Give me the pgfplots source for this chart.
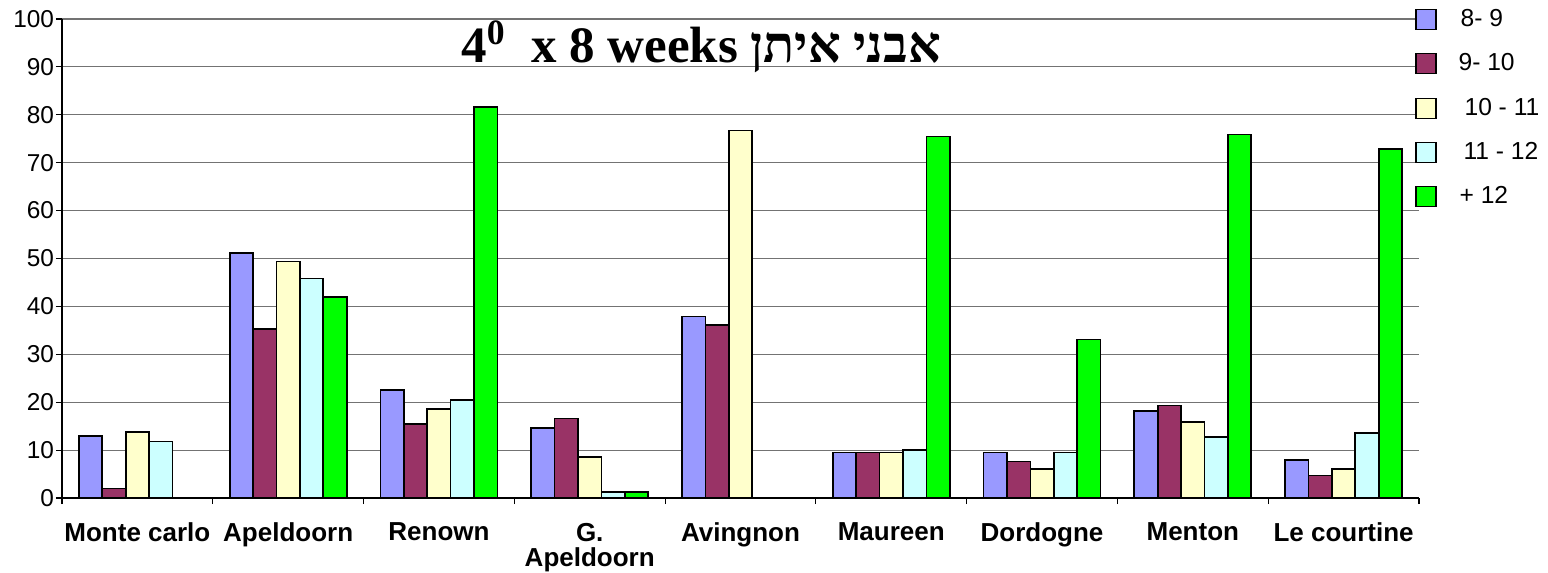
\documentclass[border=0pt]{standalone}
\usepackage{fontspec}
\setmainfont{Liberation Sans}
\newfontfamily\titleserif{Liberation Serif}
\newfontfamily\hebfont[Script=Hebrew]{Liberation Serif}
\TeXXeTstate=1
\usepackage{pgfplots}
\pgfplotsset{compat=1.18}

\definecolor{cA}{HTML}{9999FF}
\definecolor{cB}{HTML}{993366}
\definecolor{cC}{HTML}{FFFFCC}
\definecolor{cD}{HTML}{CCFFFF}
\definecolor{cE}{HTML}{00FF00}

% columns: 8-9, 9-10, 10-11, 11-12, +12
\pgfplotstableread{
x  a     b     c     d     e
0  13.0  2.0   13.8  11.8  nan
1  51.2  35.3  49.4  45.8  42.0
2  22.5  15.4  18.6  20.5  81.7
3  14.6  16.6  8.6   1.2   1.2
4  37.9  36.1  76.7  nan   nan
5  9.5   9.5   9.5   10.0  75.5
6  9.5   7.6   6.0   9.5   33.1
7  18.1  19.3  15.8  12.7  75.9
8  7.9   4.7   6.0   13.5  72.8
}\data

\begin{document}
\begin{tikzpicture}
\path[use as bounding box] (-31bp,-37.5bp) rectangle (743bp,249bp);
\begin{axis}[
    at={(0,0)}, anchor=south west,
    scale only axis,
    width=678.5bp, height=239.5bp,
    xmin=-0.5, xmax=8.5,
    ymin=0, ymax=100,
    ybar=0pt, bar width=11.7bp,
    axis lines=left,
    axis line style={-, black, line width=0.6bp},
    ytick={0,10,...,100},
    ymajorgrids,
    major grid style={gray!90!black, line width=0.6bp},
    xtick={0,...,8},
    xticklabels={Monte carlo, Apeldoorn, Renown, {G.\\Apeldoorn}, Avingnon, Maureen, Dordogne, Menton, Le courtine},
    major x tick style={draw=none},
    minor xtick={-0.5,0.5,...,8.5},
    tick align=outside,
    major tick length=3bp,
    minor tick length=3bp,
    tick style={black, line width=0.6bp},
    xticklabel style={font=\bfseries\fontsize{13bp}{12.5bp}\selectfont, align=center, yshift=-6bp},
    yticklabel style={font=\fontsize{12.2bp}{14bp}\selectfont, xshift=2.5bp},
    /pgf/number format/assume math mode=true,
    clip=false,
    legend style={at={(1,1)}, anchor=north west, draw=none, fill=none,
        font=\fontsize{12.3bp}{14bp}\selectfont, row sep=8.1bp,
        xshift=-5bp, yshift=9bp},
    legend cell align=left,
    legend image code/.code={\draw[#1, draw=black, line width=0.6bp] (0bp,-5bp) rectangle (10bp,5bp);},
]
\addplot[fill=cA, draw=black, line width=0.85bp] table[x=x, y=a] {\data};
\addplot[fill=cB, draw=black, line width=0.85bp] table[x=x, y=b] {\data};
\addplot[fill=cC, draw=black, line width=0.85bp] table[x=x, y=c] {\data};
\addplot[fill=cD, draw=black, line width=0.85bp] table[x=x, y=d] {\data};
\addplot[fill=cE, draw=black, line width=0.85bp] table[x=x, y=e] {\data};
\legend{\hspace{10bp}8- 9, \hspace{9bp}9- 10, \hspace{12bp}10 - 11, \hspace{11.5bp}11 - 12, \hspace{9.5bp}+ 12}
\node[font=\titleserif\bfseries\fontsize{25.5bp}{27bp}\selectfont] at (rel axis cs:0.471,0.942)
    {4\textsuperscript{0}\ \ x 8 weeks {\hebfont\beginR אבני איתן\endR}};
\end{axis}
\end{tikzpicture}
\end{document}
